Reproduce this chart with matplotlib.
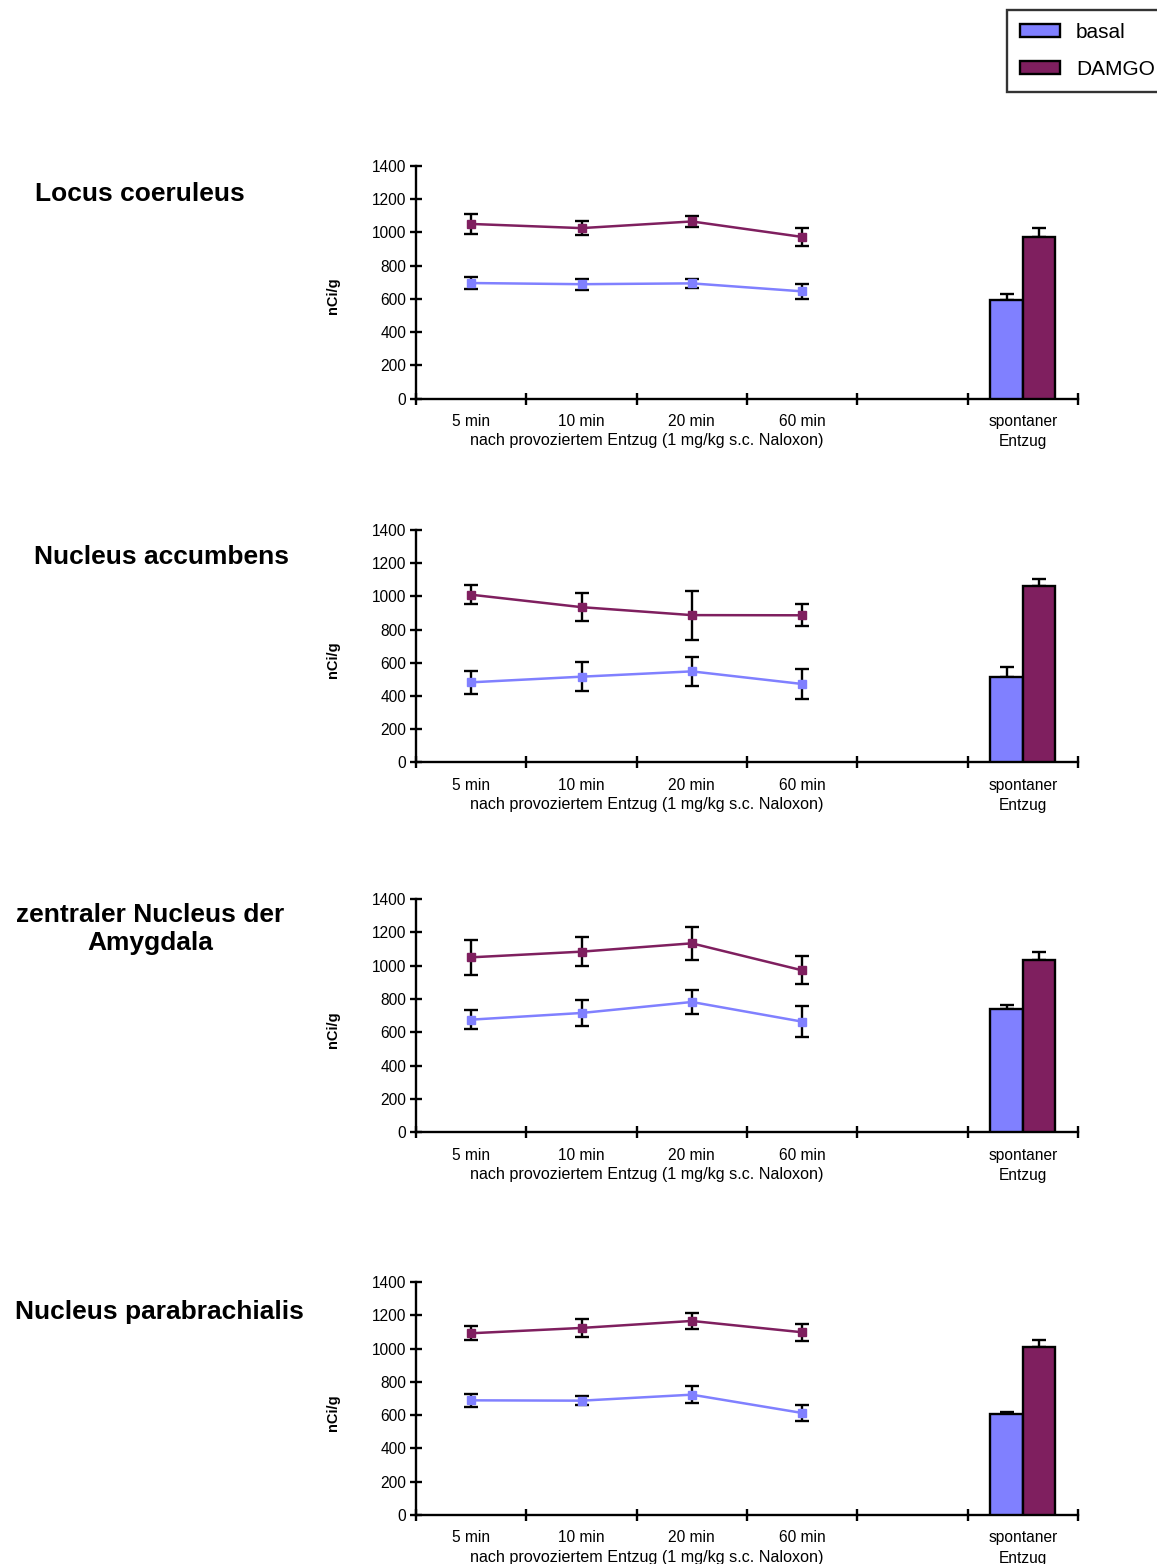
import matplotlib
matplotlib.use('Agg')
import matplotlib.pyplot as plt
from matplotlib.patches import Patch

plt.rcParams['font.family'] = ['Liberation Sans', 'DejaVu Sans']

regions = ['Locus coeruleus', 'Nucleus accumbens',
           'zentraler Nucleus der\nAmygdala', 'Nucleus parabrachialis']
categories = ['5 min', '10 min', '20 min', '60 min', '', 'spontaner\nEntzug']

basal_mean = [[695, 688, 693, 645],
              [482, 516, 548, 472],
              [676, 716, 782, 664],
              [689, 687, 723, 613]]
basal_err = [[34, 33, 27, 44],
             [71, 88, 88, 92],
             [57, 80, 73, 92],
             [40, 29, 53, 50]]
damgo_mean = [[1050, 1025, 1065, 972],
              [1010, 935, 887, 886],
              [1050, 1084, 1134, 972],
              [1092, 1124, 1166, 1098]]
damgo_err = [[60, 40, 35, 53],
             [57, 85, 147, 66],
             [105, 89, 99, 85],
             [41, 54, 48, 51]]

spont_basal = [593, 512, 738, 605]
spont_basal_err = [36, 60, 26, 16]
spont_damgo = [969, 1063, 1034, 1007]
spont_damgo_err = [56, 42, 48, 44]

basal_color = '#8080ff'
damgo_color = '#7f1f5f'

W, H = 1157, 1564
fig = plt.figure(figsize=(W / 100, H / 100), dpi=100)

# axes boxes in pixels: (top, bottom)
boxes = [(165.7, 398.7), (530, 762.3), (899, 1132.3), (1282, 1515)]
title_pos = [(140, 194), (162, 557), (150, 929), (159, 1312)]

x_line = [0, 1, 2, 3]
bw = 0.295
lw = 1.7

for i in range(4):
    top, bottom = boxes[i]
    ax = fig.add_axes([416 / W, 1 - bottom / H, 662 / W, (bottom - top) / H])

    ax.errorbar(x_line, damgo_mean[i], yerr=damgo_err[i], fmt='none',
                ecolor='black', elinewidth=lw, capsize=5, capthick=lw, zorder=2)
    ax.errorbar(x_line, basal_mean[i], yerr=basal_err[i], fmt='none',
                ecolor='black', elinewidth=lw, capsize=5, capthick=lw, zorder=2)
    ax.plot(x_line, damgo_mean[i], color=damgo_color, lw=1.8, marker='s',
            markersize=6, zorder=3)
    ax.plot(x_line, basal_mean[i], color=basal_color, lw=1.8, marker='s',
            markersize=6, zorder=3)

    ax.bar(5 - bw / 2, spont_basal[i], width=bw, color=basal_color,
           edgecolor='black', linewidth=lw, zorder=3)
    ax.bar(5 + bw / 2, spont_damgo[i], width=bw, color=damgo_color,
           edgecolor='black', linewidth=lw, zorder=3)
    ax.errorbar([5 - bw / 2], [spont_basal[i]], yerr=[[0], [spont_basal_err[i]]],
                fmt='none', ecolor='black', elinewidth=lw, capsize=5,
                capthick=lw, zorder=2)
    ax.errorbar([5 + bw / 2], [spont_damgo[i]], yerr=[[0], [spont_damgo_err[i]]],
                fmt='none', ecolor='black', elinewidth=lw, capsize=5,
                capthick=lw, zorder=2)

    ax.set_xlim(-0.5, 5.5)
    ax.set_ylim(0, 1400)
    ax.set_yticks(range(0, 1401, 200))
    ax.set_xticks([k - 0.5 for k in range(7)])
    ax.set_xticklabels([])
    ax.set_xticks(range(6), minor=True)
    ax.set_xticklabels(categories, minor=True, linespacing=1.45)
    ax.tick_params(axis='x', which='major', direction='inout', length=8, width=lw)
    ax.tick_params(axis='x', which='minor', length=0, pad=11, labelsize=11.2)
    ax.tick_params(axis='y', direction='inout', length=8, width=lw, pad=3,
                   labelsize=11.2)
    for s in ['top', 'right']:
        ax.spines[s].set_visible(False)
    for s in ['left', 'bottom']:
        ax.spines[s].set_linewidth(lw)
    ax.set_ylabel('nCi/g', fontsize=10.5, fontweight='bold')
    ax.yaxis.set_label_coords(-0.115, 0.44)

    ax.text(1.59, -(441 - 398.7) / 233, 'nach provoziertem Entzug (1 mg/kg s.c. Naloxon)',
            transform=ax.get_xaxis_transform(), ha='center', va='center', fontsize=11.6)

    tx, ty = title_pos[i]
    fig.text(tx / W, 1 - ty / H, regions[i], ha='center', va='center',
             fontsize=19, fontweight='bold', multialignment='center',
             linespacing=1.25)

handles = [Patch(facecolor=basal_color, edgecolor='black', linewidth=lw, label='basal'),
           Patch(facecolor=damgo_color, edgecolor='black', linewidth=lw, label='DAMGO')]
leg = fig.legend(handles=handles, loc='upper left', bbox_to_anchor=(1007 / W, 1 - 10 / H),
                 fontsize=15, frameon=True, fancybox=False, handlelength=1.9,
                 handleheight=0.62, labelspacing=0.85, borderpad=0.62,
                 handletextpad=0.8, borderaxespad=0)
leg.get_frame().set_edgecolor('black')
leg.get_frame().set_linewidth(lw)

fig.savefig('out.png', dpi=100)
